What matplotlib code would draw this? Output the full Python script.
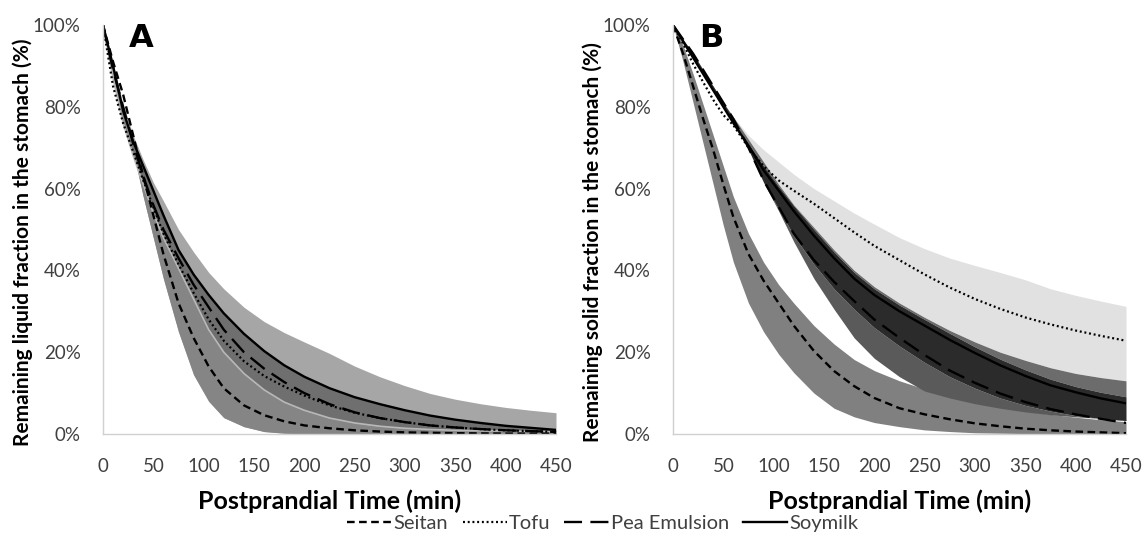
import matplotlib
matplotlib.use("Agg")
import matplotlib.pyplot as plt
from matplotlib.lines import Line2D

plt.rcParams['font.family'] = ['Lato', 'DejaVu Sans']
plt.rcParams['lines.scale_dashes'] = False

# time axis (min)
t = [0, 10, 20, 30, 40, 50, 60, 75, 90, 105, 120, 140, 160, 180, 200,
     225, 250, 275, 300, 325, 350, 375, 400, 425, 450]

# panel A - liquid fraction (%)
seitan_A = [100, 91, 83, 73, 63, 53.5, 44, 32, 23.5, 16.5, 11.2, 7.0, 4.6, 3.1, 2.1,
            1.4, 0.9, 0.6, 0.4, 0.3, 0.2, 0.15, 0.1, 0.1, 0.1]
tofu_A = [100, 85, 76, 69, 62, 55.5, 49, 41.5, 34.5, 28, 22.8, 17.8, 14.2, 11.6, 9.4,
          7.0, 5.2, 3.9, 2.9, 2.1, 1.6, 1.2, 0.9, 0.7, 0.5]
pea_A = [100, 89, 80, 71, 63, 56, 50, 43, 36.5, 31, 25.5, 20, 16, 12.7, 10,
         7.3, 5.3, 3.9, 2.9, 2.1, 1.6, 1.2, 0.9, 0.7, 0.5]
soy_A = [100, 90, 79, 71.5, 65.5, 59.5, 53.5, 45, 39, 34, 29.5, 24.5, 20.3, 16.8, 14,
         11.2, 9, 7.3, 5.8, 4.5, 3.5, 2.7, 2.0, 1.5, 1.0]
# band edges A
bandA_top = [100, 90.5, 80.5, 73, 67, 61.5, 57, 50, 44.5, 39.5, 35.5, 31, 27.5, 24.8, 22.5,
             19.7, 16.6, 14, 11.8, 9.9, 8.5, 7.4, 6.5, 5.8, 5.2]
bandA_mid = [100, 87, 76, 68, 61, 54, 48, 40.5, 33, 25.5, 20, 14.8, 10.8, 7.8, 5.8,
             3.9, 2.7, 1.9, 1.4, 1.1, 0.9, 0.8, 0.7, 0.6, 0.5]
bandA_bot = [100, 90, 80, 69, 58, 48, 38, 25, 14.5, 8, 4, 1.8, 0.6, 0.2, 0,
             0, 0, 0, 0, 0, 0, 0, 0, 0, 0]

# panel B - solid fraction (%)
seitan_B = [100, 93, 85, 77, 69.4, 61, 53, 44, 37.5, 32, 26.5, 20.3, 15.4, 11.7, 8.8,
            6.3, 4.8, 3.6, 2.6, 1.9, 1.3, 0.9, 0.6, 0.4, 0.2]
tofu_B = [100, 95.5, 90.5, 86, 81.7, 78, 75.5, 70, 65.5, 62, 59.5, 56.3, 52.8, 49.3, 46,
          42.5, 39, 35.8, 33, 30.6, 28.5, 26.8, 25.3, 24, 22.8]
soy_B = [100, 96, 92, 88, 84, 80, 76, 70.5, 64.5, 59.5, 54.5, 48.5, 43, 38, 34,
         30, 26.5, 23, 19.8, 16.8, 14.2, 11.9, 10.2, 8.7, 7.5]
pea_B = [100, 96.5, 93, 89, 85, 81, 77, 70, 62, 55.5, 49, 42.5, 37.2, 32.5, 28,
         23.5, 19.3, 15.5, 12.5, 9.9, 7.8, 6.1, 4.8, 3.7, 2.7]
# band edges B
seitanB_top = [100, 95, 88, 80.5, 73, 65.5, 58, 49, 42, 36.5, 32, 26.5, 22, 18.2, 15.5,
               13, 11, 9.3, 7.8, 6.6, 5.6, 4.8, 4.1, 3.5, 3.0]
seitanB_bot = [100, 91, 81, 71, 61, 51, 42, 32, 25, 19.5, 15, 10, 6.3, 4.2, 2.8,
               1.8, 1.0, 0.6, 0.3, 0.2, 0.1, 0, 0, 0, 0]
tofuB_top = [100, 96.5, 93, 89, 85, 81, 77.5, 73, 69.5, 66.5, 63.5, 60, 57, 54, 51.3,
             48, 45.3, 43, 41.2, 39.5, 37.7, 35.5, 33.9, 32.5, 31.2]
soyB_top = [100, 96, 92, 88, 85, 81, 77.5, 72, 66.5, 61, 56, 50.5, 45, 40, 36,
            32, 28.5, 25.3, 22.5, 20, 18, 16.2, 14.8, 13.8, 13.0]
darkB_top = [100, 96, 92, 88, 84, 80, 76, 71, 65.5, 60.5, 55.8, 50, 44.5, 39.5, 35.5,
             31.5, 28, 24.6, 21.3, 18.3, 15.7, 13.4, 11.6, 10.2, 9.1]
darkB_bot = [100, 96.5, 93, 89, 85, 81, 77, 69.5, 61.5, 55, 48.5, 41.5, 35.5, 30.5, 26,
             21.5, 17.5, 14, 11.2, 8.8, 7, 5.6, 4.5, 3.8, 3.3]
peaB_bot = [100, 96.5, 93, 89, 85, 81, 77, 69.5, 61.5, 54.5, 47, 38, 30.5, 23.5, 18.5,
            14, 10.5, 8.8, 7.4, 6.3, 5.4, 4.7, 4.2, 3.8, 3.4]

xticks = [0, 50, 100, 150, 200, 250, 300, 350, 400, 450]
yticks = [0, 20, 40, 60, 80, 100]

sty_seitan = dict(color='black', lw=1.7, dashes=(5.5, 3.2), solid_capstyle='butt')
sty_tofu = dict(color='black', lw=1.6, dashes=(1.4, 2.0))
sty_pea = dict(color='black', lw=1.7, dashes=(13, 6))
sty_soy = dict(color='black', lw=1.7)

fig = plt.figure(figsize=(11.45, 5.37), dpi=100)
axA = fig.add_axes([103 / 1145, 103 / 537, 453 / 1145, 409 / 537])
axB = fig.add_axes([673 / 1145, 103 / 537, 453 / 1145, 409 / 537])


def style_axis(ax, ylabel, letter):
    ax.set_xlim(0, 450)
    ax.set_ylim(0, 100)
    ax.set_xticks(xticks)
    ax.set_yticks(yticks)
    ax.set_yticklabels([f'{v}%' for v in yticks])
    for s in ['top', 'right']:
        ax.spines[s].set_visible(False)
    for s in ['left', 'bottom']:
        ax.spines[s].set_color('#d0d0d0')
        ax.spines[s].set_linewidth(1)
    ax.tick_params(length=0, labelsize=13.5, colors='#404040')
    ax.tick_params(axis='x', pad=17)
    ax.tick_params(axis='y', pad=16)
    ax.set_xlabel('Postprandial Time (min)', fontsize=18, fontweight='bold')
    ax.xaxis.set_label_coords(0.5, -0.135)
    ax.set_ylabel(ylabel, fontsize=15, fontweight='bold')
    ax.yaxis.set_label_coords(-0.155, 0.47)
    ax.text(0.058, 1.005, letter, transform=ax.transAxes, fontsize=23,
            fontweight='bold', va='top', ha='left', family='DejaVu Sans')


# panel A
axA.fill_between(t, bandA_top, bandA_bot, color='#a6a6a6', lw=0)
axA.fill_between(t, soy_A, bandA_mid, color='#6f6f6f', lw=0)
axA.fill_between(t, bandA_mid, bandA_bot, color='#858585', lw=0)
axA.plot(t, bandA_mid, color='#b8b8b8', lw=1.2)
axA.plot(t, seitan_A, **sty_seitan)
axA.plot(t, tofu_A, **sty_tofu)
axA.plot(t, pea_A, **sty_pea)
axA.plot(t, soy_A, **sty_soy)
style_axis(axA, 'Remaining liquid fraction in the stomach (%)', 'A')

# panel B
axB.fill_between(t, tofuB_top, soyB_top, color='#e1e1e1', lw=0)
axB.fill_between(t, seitanB_top, seitanB_bot, color='#808080', lw=0)
axB.fill_between(t, soyB_top, darkB_top, color='#6c6c6c', lw=0)
axB.fill_between(t, darkB_bot, peaB_bot, color='#5a5a5a', lw=0)
axB.fill_between(t, darkB_top, darkB_bot, color='#2b2b2b', lw=0)
axB.plot(t, seitan_B, **sty_seitan)
axB.plot(t, tofu_B, **sty_tofu)
axB.plot(t, pea_B, **sty_pea)
axB.plot(t, soy_B, **sty_soy)
style_axis(axB, 'Remaining solid fraction in the stomach (%)', 'B')

handles = [Line2D([], [], **sty_seitan), Line2D([], [], **sty_tofu),
           Line2D([], [], **sty_pea), Line2D([], [], **sty_soy)]
labels = ['Seitan', 'Tofu', 'Pea Emulsion', 'Soymilk']
fig.legend(handles, labels, loc='center', bbox_to_anchor=(603 / 1145, 14 / 537),
           ncol=4, frameon=False, fontsize=14.5, handlelength=2.2, handletextpad=0.1,
           columnspacing=0.7, labelcolor='#404040')

fig.savefig('out.png', dpi=100)
